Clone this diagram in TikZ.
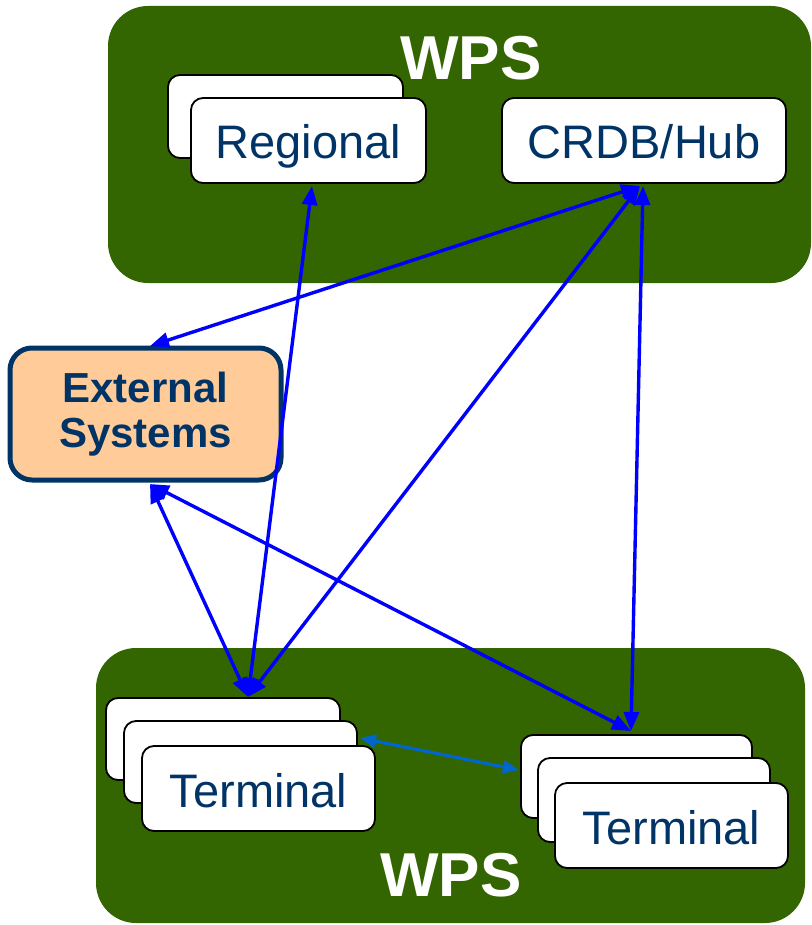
\documentclass[tikz,border=0pt]{standalone}
\usepackage{fontspec}
\setmainfont{Liberation Sans}
\usetikzlibrary{arrows.meta}
\definecolor{wpsgreen}{HTML}{336600}
\definecolor{navy}{HTML}{003366}
\definecolor{peach}{HTML}{FFCC99}
\definecolor{arrowblue}{HTML}{0000FF}
\definecolor{linkblue}{HTML}{0066CC}
\begin{document}
\begin{tikzpicture}[x=1pt,y=-1pt,
  wpsarea/.style={fill=wpsgreen, rounded corners=40pt},
  wpstext/.style={text=white, font=\bfseries\fontsize{62}{62}\selectfont, inner sep=0pt},
  card/.style={draw=black, line width=1.8pt, fill=white, rounded corners=12pt,
    inner sep=0pt, text=navy, font=\fontsize{47}{47}\selectfont,
    text height=37pt, text depth=0pt},
  extbox/.style={draw=navy, line width=5pt, fill=peach, rounded corners=22pt,
    inner sep=0pt, text=navy, align=center,
    font=\bfseries\fontsize{42}{45}\selectfont},
  link/.style={draw=arrowblue, line width=3.4pt,
    {Triangle[length=19pt,width=15pt]}-{Triangle[length=19pt,width=15pt]}},
  peer/.style={draw=linkblue, line width=3.2pt,
    {Triangle[length=16pt,width=13pt]}-{Triangle[length=16pt,width=13pt]}}
]
\useasboundingbox (0,0) rectangle (811,925);
% WPS areas
\fill[wpsarea] (108,6) rectangle (811,283);
\fill[wpsarea] (96,648) rectangle (805,923);
\node[wpstext] (topwps) at (471,58.5) {WPS};
\node[wpstext] (botwps) at (451,875) {WPS};
% Regional stack
\node[card, minimum width=235pt, minimum height=83pt] (regback) at (285.5,116.5) {};
\node[card, minimum width=235pt, minimum height=85pt] (regional) at (308.5,140.5) {Regional};
% CRDB/Hub
\node[card, minimum width=284pt, minimum height=85pt] (crdb) at (644,140.5) {CRDB/Hub};
% External Systems
\node[extbox, minimum width=271pt, minimum height=132pt] (ext) at (145.5,414) {External\\Systems};
% Terminal left stack
\node[card, minimum width=234pt, minimum height=82pt] (tla) at (223,739) {};
\node[card, minimum width=233pt, minimum height=82pt] (tlb) at (240.5,762) {};
\node[card, minimum width=233pt, minimum height=85pt] (tl) at (258.5,788.5) {Terminal};
% Terminal right stack
\node[card, minimum width=231pt, minimum height=83pt] (tra) at (636.5,776.5) {};
\node[card, minimum width=232pt, minimum height=84pt] (trb) at (654,800) {};
\node[card, minimum width=233pt, minimum height=85pt] (tr) at (671.5,825.5) {Terminal};
% connector end points
\coordinate (pReg) at (312,186);
\coordinate (pHub) at (640,186);
\coordinate (pHubB) at (643,186);
\coordinate (pExtT) at (150,346);
\coordinate (pExtB) at (150,484);
\coordinate (pTL) at (248,697);
\coordinate (pTR) at (631,731);
\coordinate (pTLr) at (360,738);
\coordinate (pTRl) at (519,770);
% connectors
\draw[link] (pReg) -- (pTL);
\draw[link] (pHub) -- (pExtT);
\draw[link] (pHub) -- (pTL);
\draw[link] (pHubB) -- (pTR);
\draw[link] (pExtB) -- (pTL);
\draw[link] (pExtB) -- (pTR);
\draw[peer] (pTLr) -- (pTRl);
\end{tikzpicture}
\end{document}
